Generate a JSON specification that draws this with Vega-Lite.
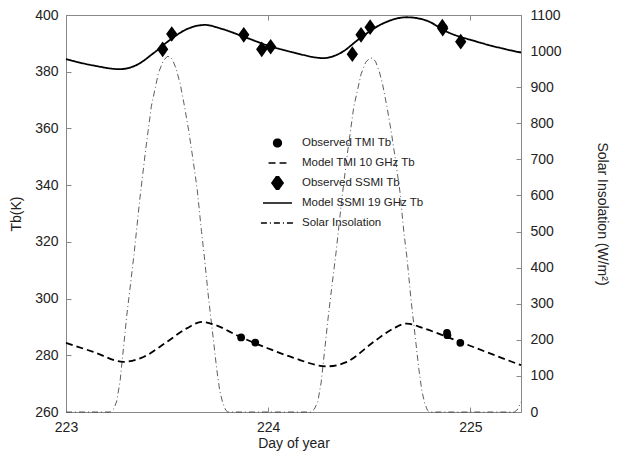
{
  "$schema": "https://vega.github.io/schema/vega-lite/v6.json",
  "width": 455,
  "height": 397,
  "autosize": "none",
  "padding": {"left": 66, "top": 15, "right": 119, "bottom": 43},
  "background": "white",
  "config": {
    "font": "Liberation Sans",
    "view": {"stroke": "#888", "strokeWidth": 1},
    "axis": {
      "domainColor": "#888",
      "tickColor": "#888",
      "tickSize": -5,
      "labelFontSize": 14,
      "labelColor": "#222",
      "titleFontSize": 14,
      "titleFontWeight": "normal",
      "titleColor": "#222",
      "grid": false,
      "labelFlush": false,
      "labelOverlap": false
    }
  },
  "datasets": {
    "solar": [
      {"series": "Solar Insolation", "day": 223.0, "value": 0},
      {"series": "Solar Insolation", "day": 223.218, "value": 0},
      {"series": "Solar Insolation", "day": 223.235, "value": 8},
      {"series": "Solar Insolation", "day": 223.25, "value": 28},
      {"series": "Solar Insolation", "day": 223.267, "value": 83},
      {"series": "Solar Insolation", "day": 223.284, "value": 176},
      {"series": "Solar Insolation", "day": 223.3, "value": 265},
      {"series": "Solar Insolation", "day": 223.316, "value": 340},
      {"series": "Solar Insolation", "day": 223.337, "value": 440},
      {"series": "Solar Insolation", "day": 223.365, "value": 590},
      {"series": "Solar Insolation", "day": 223.394, "value": 727},
      {"series": "Solar Insolation", "day": 223.422, "value": 847},
      {"series": "Solar Insolation", "day": 223.457, "value": 939},
      {"series": "Solar Insolation", "day": 223.48, "value": 972},
      {"series": "Solar Insolation", "day": 223.5, "value": 985},
      {"series": "Solar Insolation", "day": 223.515, "value": 984},
      {"series": "Solar Insolation", "day": 223.528, "value": 975},
      {"series": "Solar Insolation", "day": 223.545, "value": 950},
      {"series": "Solar Insolation", "day": 223.564, "value": 911},
      {"series": "Solar Insolation", "day": 223.585, "value": 850},
      {"series": "Solar Insolation", "day": 223.606, "value": 782},
      {"series": "Solar Insolation", "day": 223.628, "value": 700},
      {"series": "Solar Insolation", "day": 223.649, "value": 616},
      {"series": "Solar Insolation", "day": 223.67, "value": 500},
      {"series": "Solar Insolation", "day": 223.684, "value": 431},
      {"series": "Solar Insolation", "day": 223.705, "value": 315},
      {"series": "Solar Insolation", "day": 223.729, "value": 200},
      {"series": "Solar Insolation", "day": 223.745, "value": 120},
      {"series": "Solar Insolation", "day": 223.76, "value": 60},
      {"series": "Solar Insolation", "day": 223.775, "value": 25},
      {"series": "Solar Insolation", "day": 223.79, "value": 5},
      {"series": "Solar Insolation", "day": 223.8, "value": 0},
      {"series": "Solar Insolation", "day": 224.21, "value": 0},
      {"series": "Solar Insolation", "day": 224.228, "value": 8},
      {"series": "Solar Insolation", "day": 224.245, "value": 28},
      {"series": "Solar Insolation", "day": 224.262, "value": 83},
      {"series": "Solar Insolation", "day": 224.28, "value": 176},
      {"series": "Solar Insolation", "day": 224.297, "value": 265},
      {"series": "Solar Insolation", "day": 224.313, "value": 340},
      {"series": "Solar Insolation", "day": 224.335, "value": 440},
      {"series": "Solar Insolation", "day": 224.364, "value": 590},
      {"series": "Solar Insolation", "day": 224.394, "value": 727},
      {"series": "Solar Insolation", "day": 224.423, "value": 845},
      {"series": "Solar Insolation", "day": 224.459, "value": 936},
      {"series": "Solar Insolation", "day": 224.482, "value": 969},
      {"series": "Solar Insolation", "day": 224.503, "value": 981},
      {"series": "Solar Insolation", "day": 224.518, "value": 980},
      {"series": "Solar Insolation", "day": 224.531, "value": 971},
      {"series": "Solar Insolation", "day": 224.548, "value": 946},
      {"series": "Solar Insolation", "day": 224.566, "value": 907},
      {"series": "Solar Insolation", "day": 224.587, "value": 846},
      {"series": "Solar Insolation", "day": 224.608, "value": 778},
      {"series": "Solar Insolation", "day": 224.63, "value": 696},
      {"series": "Solar Insolation", "day": 224.651, "value": 612},
      {"series": "Solar Insolation", "day": 224.671, "value": 497},
      {"series": "Solar Insolation", "day": 224.686, "value": 428},
      {"series": "Solar Insolation", "day": 224.706, "value": 312},
      {"series": "Solar Insolation", "day": 224.729, "value": 198},
      {"series": "Solar Insolation", "day": 224.745, "value": 118},
      {"series": "Solar Insolation", "day": 224.76, "value": 58},
      {"series": "Solar Insolation", "day": 224.774, "value": 24},
      {"series": "Solar Insolation", "day": 224.787, "value": 5},
      {"series": "Solar Insolation", "day": 224.797, "value": 0},
      {"series": "Solar Insolation", "day": 225.218, "value": 0},
      {"series": "Solar Insolation", "day": 225.235, "value": 8},
      {"series": "Solar Insolation", "day": 225.25, "value": 28}
    ],
    "models": [
      {"series": "Model TMI 10 GHz Tb", "day": 223.0, "tb": 284.4},
      {"series": "Model TMI 10 GHz Tb", "day": 223.135, "tb": 281.2},
      {"series": "Model TMI 10 GHz Tb", "day": 223.284, "tb": 277.7},
      {"series": "Model TMI 10 GHz Tb", "day": 223.383, "tb": 279.4},
      {"series": "Model TMI 10 GHz Tb", "day": 223.498, "tb": 284.7},
      {"series": "Model TMI 10 GHz Tb", "day": 223.597, "tb": 289.5},
      {"series": "Model TMI 10 GHz Tb", "day": 223.672, "tb": 291.8},
      {"series": "Model TMI 10 GHz Tb", "day": 223.729, "tb": 290.9},
      {"series": "Model TMI 10 GHz Tb", "day": 223.861, "tb": 286.5},
      {"series": "Model TMI 10 GHz Tb", "day": 224.0, "tb": 282.4},
      {"series": "Model TMI 10 GHz Tb", "day": 224.125, "tb": 279.1},
      {"series": "Model TMI 10 GHz Tb", "day": 224.29, "tb": 276.1},
      {"series": "Model TMI 10 GHz Tb", "day": 224.389, "tb": 277.7},
      {"series": "Model TMI 10 GHz Tb", "day": 224.521, "tb": 284.7},
      {"series": "Model TMI 10 GHz Tb", "day": 224.62, "tb": 289.5},
      {"series": "Model TMI 10 GHz Tb", "day": 224.686, "tb": 291.2},
      {"series": "Model TMI 10 GHz Tb", "day": 224.769, "tb": 289.5},
      {"series": "Model TMI 10 GHz Tb", "day": 224.884, "tb": 286.5},
      {"series": "Model TMI 10 GHz Tb", "day": 225.033, "tb": 282.4},
      {"series": "Model TMI 10 GHz Tb", "day": 225.25, "tb": 276.5},
      {"series": "Model SSMI 19 GHz Tb", "day": 223.0, "tb": 384.4},
      {"series": "Model SSMI 19 GHz Tb", "day": 223.135, "tb": 382.2},
      {"series": "Model SSMI 19 GHz Tb", "day": 223.267, "tb": 380.9},
      {"series": "Model SSMI 19 GHz Tb", "day": 223.35, "tb": 382.4},
      {"series": "Model SSMI 19 GHz Tb", "day": 223.432, "tb": 386.5},
      {"series": "Model SSMI 19 GHz Tb", "day": 223.514, "tb": 391.2},
      {"series": "Model SSMI 19 GHz Tb", "day": 223.597, "tb": 395.0},
      {"series": "Model SSMI 19 GHz Tb", "day": 223.688, "tb": 396.5},
      {"series": "Model SSMI 19 GHz Tb", "day": 223.762, "tb": 395.3},
      {"series": "Model SSMI 19 GHz Tb", "day": 223.877, "tb": 392.4},
      {"series": "Model SSMI 19 GHz Tb", "day": 224.0, "tb": 389.2},
      {"series": "Model SSMI 19 GHz Tb", "day": 224.124, "tb": 386.8},
      {"series": "Model SSMI 19 GHz Tb", "day": 224.273, "tb": 384.8},
      {"series": "Model SSMI 19 GHz Tb", "day": 224.355, "tb": 386.5},
      {"series": "Model SSMI 19 GHz Tb", "day": 224.454, "tb": 391.8},
      {"series": "Model SSMI 19 GHz Tb", "day": 224.553, "tb": 396.5},
      {"series": "Model SSMI 19 GHz Tb", "day": 224.685, "tb": 399.2},
      {"series": "Model SSMI 19 GHz Tb", "day": 224.784, "tb": 398.0},
      {"series": "Model SSMI 19 GHz Tb", "day": 224.883, "tb": 394.1},
      {"series": "Model SSMI 19 GHz Tb", "day": 225.031, "tb": 390.6},
      {"series": "Model SSMI 19 GHz Tb", "day": 225.25, "tb": 386.7}
    ],
    "obs": [
      {"series": "Observed TMI Tb", "day": 223.866, "tb": 286.3},
      {"series": "Observed TMI Tb", "day": 223.936, "tb": 284.5},
      {"series": "Observed TMI Tb", "day": 224.884, "tb": 287.9},
      {"series": "Observed TMI Tb", "day": 224.886, "tb": 287.1},
      {"series": "Observed TMI Tb", "day": 224.95, "tb": 284.4},
      {"series": "Observed SSMI Tb", "day": 223.478, "tb": 387.9},
      {"series": "Observed SSMI Tb", "day": 223.523, "tb": 393.3},
      {"series": "Observed SSMI Tb", "day": 223.879, "tb": 393.0},
      {"series": "Observed SSMI Tb", "day": 223.968, "tb": 387.9},
      {"series": "Observed SSMI Tb", "day": 224.012, "tb": 388.8},
      {"series": "Observed SSMI Tb", "day": 224.416, "tb": 386.2},
      {"series": "Observed SSMI Tb", "day": 224.459, "tb": 393.0},
      {"series": "Observed SSMI Tb", "day": 224.504, "tb": 395.7},
      {"series": "Observed SSMI Tb", "day": 224.861, "tb": 395.9},
      {"series": "Observed SSMI Tb", "day": 224.863, "tb": 395.2},
      {"series": "Observed SSMI Tb", "day": 224.952, "tb": 390.6}
    ]
  },
  "layer": [
    {
      "data": {"name": "solar"},
      "mark": {"type": "line", "strokeWidth": 0.8, "color": "#333"},
      "encoding": {
        "x": {"field": "day", "type": "quantitative", "scale": {"domain": [223, 225.25], "nice": false, "zero": false},
              "axis": {"orient": "top", "labels": false, "title": null, "values": [223, 224, 225]}},
        "y": {"field": "value", "type": "quantitative", "scale": {"domain": [0, 1100], "nice": false},
              "axis": {"orient": "right", "title": "Solar Insolation (W/m²)", "format": "d", "values": [0,100,200,300,400,500,600,700,800,900,1000,1100], "labelPadding": 14, "titlePadding": 33}},
        "strokeDash": {"field": "series", "type": "nominal",
          "scale": {"domain": ["Observed TMI Tb", "Model TMI 10 GHz Tb", "Observed SSMI Tb", "Model SSMI 19 GHz Tb", "Solar Insolation"],
                    "range": [[1,0],[7,4],[1,0],[1,0],[6,3,1,3]]},
          "legend": {"orient": "none", "legendX": 194, "legendY": 121, "title": null, "labelFontSize": 11.5, "labelColor": "#222", "labelOffset": 7, "rowPadding": 6, "clipHeight": 14, "symbolStrokeColor": "black", "symbolFillColor": "black", "symbolStrokeWidth": 1.5}}
      }
    },
    {
      "layer": [
        {
          "data": {"name": "models"},
          "mark": {"type": "line", "strokeWidth": 1.8, "color": "black", "interpolate": "monotone"},
          "encoding": {
            "x": {"field": "day", "type": "quantitative", "scale": {"domain": [223, 225.25], "nice": false, "zero": false},
                  "axis": {"orient": "bottom", "title": "Day of year", "values": [223, 224, 225], "format": "d", "labelPadding": 13, "titlePadding": 2}},
            "y": {"field": "tb", "type": "quantitative", "scale": {"domain": [260, 400], "nice": false, "zero": false},
                  "axis": {"orient": "left", "title": "Tb(K)", "values": [260,280,300,320,340,360,380,400], "labelPadding": 13, "titlePadding": 11}},
            "strokeDash": {"field": "series", "type": "nominal",
              "scale": {"domain": ["Observed TMI Tb", "Model TMI 10 GHz Tb", "Observed SSMI Tb", "Model SSMI 19 GHz Tb", "Solar Insolation"],
                        "range": [[1,0],[7,4],[1,0],[1,0],[6,3,1,3]]}}
          }
        },
        {
          "data": {"name": "obs"},
          "mark": {"type": "point", "filled": true, "color": "black", "opacity": 1},
          "encoding": {
            "x": {"field": "day", "type": "quantitative"},
            "y": {"field": "tb", "type": "quantitative"},
            "shape": {"field": "series", "type": "nominal",
              "scale": {"domain": ["Observed TMI Tb", "Model TMI 10 GHz Tb", "Observed SSMI Tb", "Model SSMI 19 GHz Tb", "Solar Insolation"],
                        "range": ["circle", "stroke", "M0,-0.65L0.47,0L0,0.65L-0.47,0Z", "stroke", "stroke"]}},
            "size": {"field": "series", "type": "nominal",
              "scale": {"domain": ["Observed TMI Tb", "Model TMI 10 GHz Tb", "Observed SSMI Tb", "Model SSMI 19 GHz Tb", "Solar Insolation"],
                        "range": [60, 1100, 70, 1100, 1100]}}
          }
        }
      ]
    }
  ],
  "resolve": {"scale": {"y": "independent"}, "axis": {"x": "independent"}}
}
